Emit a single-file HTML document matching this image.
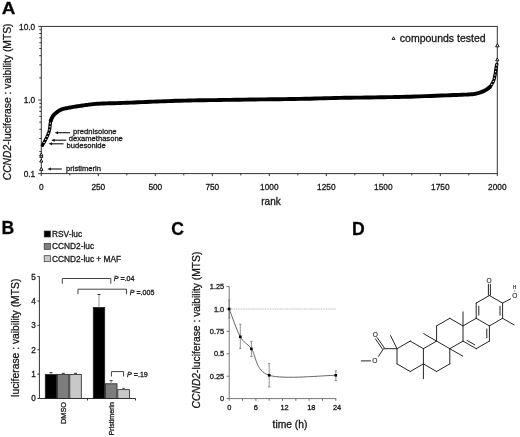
<!DOCTYPE html>
<html><head><meta charset="utf-8"><style>
html,body{margin:0;padding:0;background:#fff;}
svg{display:block;filter:grayscale(100%) blur(0.35px);}
text{font-family:"Liberation Sans",sans-serif;stroke:#222;stroke-width:0.3px;}
</style></head><body>
<svg width="520" height="437" viewBox="0 0 520 437">
<rect width="520" height="437" fill="#fff"/>
<rect x="41.3" y="26.4" width="456.0" height="147.2" fill="none" stroke="#333" stroke-width="1"/>
<line x1="38.30" y1="173.60" x2="41.30" y2="173.60" stroke="#333" stroke-width="1" />
<line x1="39.30" y1="151.44" x2="41.30" y2="151.44" stroke="#333" stroke-width="1" />
<line x1="39.30" y1="138.48" x2="41.30" y2="138.48" stroke="#333" stroke-width="1" />
<line x1="39.30" y1="129.29" x2="41.30" y2="129.29" stroke="#333" stroke-width="1" />
<line x1="39.30" y1="122.16" x2="41.30" y2="122.16" stroke="#333" stroke-width="1" />
<line x1="39.30" y1="116.33" x2="41.30" y2="116.33" stroke="#333" stroke-width="1" />
<line x1="39.30" y1="111.40" x2="41.30" y2="111.40" stroke="#333" stroke-width="1" />
<line x1="39.30" y1="107.13" x2="41.30" y2="107.13" stroke="#333" stroke-width="1" />
<line x1="39.30" y1="103.37" x2="41.30" y2="103.37" stroke="#333" stroke-width="1" />
<line x1="38.30" y1="100.00" x2="41.30" y2="100.00" stroke="#333" stroke-width="1" />
<line x1="39.30" y1="77.84" x2="41.30" y2="77.84" stroke="#333" stroke-width="1" />
<line x1="39.30" y1="64.88" x2="41.30" y2="64.88" stroke="#333" stroke-width="1" />
<line x1="39.30" y1="55.69" x2="41.30" y2="55.69" stroke="#333" stroke-width="1" />
<line x1="39.30" y1="48.56" x2="41.30" y2="48.56" stroke="#333" stroke-width="1" />
<line x1="39.30" y1="42.73" x2="41.30" y2="42.73" stroke="#333" stroke-width="1" />
<line x1="39.30" y1="37.80" x2="41.30" y2="37.80" stroke="#333" stroke-width="1" />
<line x1="39.30" y1="33.53" x2="41.30" y2="33.53" stroke="#333" stroke-width="1" />
<line x1="39.30" y1="29.77" x2="41.30" y2="29.77" stroke="#333" stroke-width="1" />
<line x1="38.30" y1="26.40" x2="41.30" y2="26.40" stroke="#333" stroke-width="1" />
<text x="35.20" y="29.50" font-size="8.3" text-anchor="end" font-weight="normal" fill="#111" >10.0</text>
<text x="35.20" y="103.10" font-size="8.3" text-anchor="end" font-weight="normal" fill="#111" >1.0</text>
<text x="35.20" y="176.70" font-size="8.3" text-anchor="end" font-weight="normal" fill="#111" >0.1</text>
<line x1="41.30" y1="173.60" x2="41.30" y2="176.10" stroke="#333" stroke-width="1" />
<line x1="69.80" y1="173.60" x2="69.80" y2="175.40" stroke="#333" stroke-width="1" />
<line x1="98.30" y1="173.60" x2="98.30" y2="176.10" stroke="#333" stroke-width="1" />
<line x1="126.80" y1="173.60" x2="126.80" y2="175.40" stroke="#333" stroke-width="1" />
<line x1="155.30" y1="173.60" x2="155.30" y2="176.10" stroke="#333" stroke-width="1" />
<line x1="183.80" y1="173.60" x2="183.80" y2="175.40" stroke="#333" stroke-width="1" />
<line x1="212.30" y1="173.60" x2="212.30" y2="176.10" stroke="#333" stroke-width="1" />
<line x1="240.80" y1="173.60" x2="240.80" y2="175.40" stroke="#333" stroke-width="1" />
<line x1="269.30" y1="173.60" x2="269.30" y2="176.10" stroke="#333" stroke-width="1" />
<line x1="297.80" y1="173.60" x2="297.80" y2="175.40" stroke="#333" stroke-width="1" />
<line x1="326.30" y1="173.60" x2="326.30" y2="176.10" stroke="#333" stroke-width="1" />
<line x1="354.80" y1="173.60" x2="354.80" y2="175.40" stroke="#333" stroke-width="1" />
<line x1="383.30" y1="173.60" x2="383.30" y2="176.10" stroke="#333" stroke-width="1" />
<line x1="411.80" y1="173.60" x2="411.80" y2="175.40" stroke="#333" stroke-width="1" />
<line x1="440.30" y1="173.60" x2="440.30" y2="176.10" stroke="#333" stroke-width="1" />
<line x1="468.80" y1="173.60" x2="468.80" y2="175.40" stroke="#333" stroke-width="1" />
<line x1="497.30" y1="173.60" x2="497.30" y2="176.10" stroke="#333" stroke-width="1" />
<text x="41.30" y="189.70" font-size="8.3" text-anchor="middle" font-weight="normal" fill="#111" >0</text>
<text x="98.30" y="189.70" font-size="8.3" text-anchor="middle" font-weight="normal" fill="#111" >250</text>
<text x="155.30" y="189.70" font-size="8.3" text-anchor="middle" font-weight="normal" fill="#111" >500</text>
<text x="212.30" y="189.70" font-size="8.3" text-anchor="middle" font-weight="normal" fill="#111" >750</text>
<text x="269.30" y="189.70" font-size="8.3" text-anchor="middle" font-weight="normal" fill="#111" >1000</text>
<text x="326.30" y="189.70" font-size="8.3" text-anchor="middle" font-weight="normal" fill="#111" >1250</text>
<text x="383.30" y="189.70" font-size="8.3" text-anchor="middle" font-weight="normal" fill="#111" >1500</text>
<text x="440.30" y="189.70" font-size="8.3" text-anchor="middle" font-weight="normal" fill="#111" >1750</text>
<text x="497.30" y="189.70" font-size="8.3" text-anchor="middle" font-weight="normal" fill="#111" >2000</text>
<text x="271.00" y="205.00" font-size="10" text-anchor="middle" font-weight="normal" fill="#111" >rank</text>
<text transform="translate(11.3,101.9) rotate(-90)" font-size="10.3" text-anchor="middle" fill="#111"><tspan font-style="italic">CCND2</tspan>-luciferase : vaibility (MTS)</text>
<text transform="translate(1.7,14.4) scale(1.09,1)" font-size="17.3" font-weight="bold" fill="#000">A</text>
<path d="M50.80,120.60 L50.89,120.38 L51.01,120.09 L51.14,119.75 L51.30,119.36 L51.47,118.96 L51.64,118.55 L51.82,118.16 L52.00,117.80 L52.17,117.47 L52.33,117.15 L52.50,116.83 L52.67,116.51 L52.86,116.20 L53.07,115.87 L53.32,115.54 L53.60,115.20 L53.93,114.84 L54.31,114.45 L54.72,114.06 L55.16,113.66 L55.60,113.27 L56.05,112.89 L56.49,112.53 L56.90,112.20 L57.30,111.90 L57.69,111.61 L58.07,111.35 L58.46,111.09 L58.84,110.85 L59.22,110.63 L59.61,110.41 L60.00,110.20 L60.37,110.00 L60.71,109.83 L61.03,109.67 L61.37,109.51 L61.73,109.36 L62.14,109.22 L62.63,109.06 L63.20,108.90 L63.86,108.73 L64.57,108.56 L65.35,108.39 L66.18,108.22 L67.06,108.04 L67.99,107.87 L68.97,107.69 L70.00,107.50 L71.10,107.31 L72.27,107.11 L73.52,106.91 L74.80,106.70 L76.11,106.49 L77.42,106.29 L78.73,106.09 L80.00,105.90 L81.25,105.71 L82.50,105.52 L83.75,105.34 L85.00,105.16 L86.25,104.98 L87.50,104.81 L88.75,104.65 L90.00,104.50 L91.18,104.36 L92.27,104.23 L93.31,104.11 L94.38,104.00 L95.52,103.89 L96.80,103.79 L98.27,103.69 L100.00,103.60 L101.95,103.51 L104.06,103.44 L106.33,103.38 L108.75,103.32 L111.33,103.26 L114.06,103.19 L116.95,103.10 L120.00,103.00 L123.27,102.88 L126.80,102.74 L130.52,102.59 L134.38,102.43 L138.31,102.27 L142.27,102.11 L146.18,101.95 L150.00,101.80 L153.68,101.65 L157.27,101.51 L160.81,101.36 L164.38,101.22 L168.02,101.08 L171.80,100.94 L175.77,100.82 L180.00,100.70 L184.52,100.59 L189.30,100.49 L194.27,100.40 L199.38,100.32 L204.56,100.24 L209.77,100.16 L214.93,100.08 L220.00,100.00 L225.00,99.92 L230.00,99.84 L235.00,99.76 L240.00,99.69 L245.00,99.61 L250.00,99.54 L255.00,99.47 L260.00,99.40 L265.00,99.34 L270.00,99.28 L275.00,99.23 L280.00,99.18 L285.00,99.12 L290.00,99.06 L295.00,98.99 L300.00,98.90 L305.00,98.80 L310.00,98.68 L315.00,98.54 L320.00,98.41 L325.00,98.27 L330.00,98.13 L335.00,98.01 L340.00,97.90 L345.07,97.81 L350.23,97.72 L355.44,97.65 L360.62,97.58 L365.73,97.51 L370.70,97.44 L375.48,97.37 L380.00,97.30 L384.16,97.23 L387.97,97.17 L391.54,97.11 L395.00,97.06 L398.46,96.99 L402.03,96.91 L405.84,96.82 L410.00,96.70 L414.66,96.55 L419.77,96.37 L425.15,96.17 L430.62,95.96 L436.03,95.75 L441.17,95.55 L445.89,95.36 L450.00,95.20 L453.55,95.07 L456.73,94.95 L459.58,94.85 L462.12,94.76 L464.40,94.67 L466.45,94.58 L468.31,94.50 L470.00,94.40 L471.43,94.30 L472.52,94.21 L473.34,94.12 L473.96,94.03 L474.47,93.94 L474.93,93.84 L475.41,93.72 L476.00,93.60 L476.64,93.47 L477.25,93.33 L477.83,93.18 L478.39,93.02 L478.94,92.86 L479.48,92.69 L480.03,92.50 L480.60,92.30 L481.18,92.09 L481.75,91.88 L482.33,91.65 L482.90,91.41 L483.48,91.16 L484.05,90.89 L484.63,90.61 L485.20,90.30 L485.81,89.94 L486.46,89.53 L487.13,89.08 L487.79,88.63 L488.41,88.18 L488.97,87.78 L489.45,87.45 L489.80,87.20" fill="none" stroke="#000" stroke-width="3.9" stroke-linejoin="round" stroke-linecap="round"/>
<path d="M42.40,145.30 L42.54,145.06 L42.73,144.74 L42.95,144.36 L43.20,143.94 L43.46,143.49 L43.72,143.04 L43.97,142.60 L44.20,142.20 L44.41,141.83 L44.61,141.46 L44.81,141.10 L45.00,140.74 L45.19,140.38 L45.39,140.00 L45.59,139.61 L45.80,139.20 L46.02,138.76 L46.25,138.31 L46.48,137.83 L46.71,137.35 L46.95,136.86 L47.17,136.37 L47.39,135.88 L47.60,135.40 L47.80,134.93 L47.99,134.45 L48.18,133.97 L48.36,133.50 L48.54,133.03 L48.70,132.55 L48.86,132.08 L49.00,131.60 L49.13,131.12 L49.25,130.65 L49.36,130.17 L49.46,129.70 L49.56,129.22 L49.64,128.75 L49.72,128.27 L49.80,127.80 L49.87,127.32 L49.92,126.84 L49.97,126.36 L50.01,125.88 L50.05,125.40 L50.10,124.92 L50.14,124.46 L50.20,124.00 L50.27,123.53 L50.35,123.04 L50.44,122.55 L50.53,122.06 L50.61,121.61 L50.69,121.20 L50.75,120.86 L50.80,120.60" fill="none" stroke="#000" stroke-width="3.3" stroke-linejoin="round" stroke-linecap="round"/>
<path d="M44.11,141.46 L45.01,143.06 L43.21,143.06 Z" fill="#fff"/>
<path d="M45.72,138.47 L46.62,140.07 L44.82,140.07 Z" fill="#fff"/>
<path d="M47.20,135.41 L48.10,137.01 L46.30,137.01 Z" fill="#fff"/>
<path d="M48.49,132.26 L49.39,133.86 L47.59,133.86 Z" fill="#fff"/>
<path d="M49.42,128.99 L50.32,130.59 L48.52,130.59 Z" fill="#fff"/>
<path d="M49.95,125.64 L50.85,127.24 L49.05,127.24 Z" fill="#fff"/>
<path d="M50.33,122.26 L51.23,123.86 L49.43,123.86 Z" fill="#fff"/>
<path d="M489.80,87.20 L489.99,86.91 L490.25,86.53 L490.56,86.07 L490.90,85.56 L491.25,85.03 L491.60,84.49 L491.92,83.97 L492.20,83.50 L492.44,83.06 L492.68,82.63 L492.89,82.20 L493.10,81.78 L493.29,81.36 L493.47,80.94 L493.64,80.52 L493.80,80.10 L493.94,79.67 L494.06,79.25 L494.16,78.82 L494.26,78.40 L494.34,77.97 L494.43,77.55 L494.51,77.12 L494.60,76.70 L494.69,76.28 L494.79,75.85 L494.88,75.43 L494.97,75.01 L495.06,74.58 L495.14,74.16 L495.22,73.73 L495.30,73.30 L495.37,72.87 L495.43,72.45 L495.49,72.02 L495.55,71.59 L495.61,71.16 L495.67,70.72 L495.73,70.27 L495.80,69.80 L495.88,69.30 L495.97,68.76 L496.06,68.19 L496.16,67.63 L496.25,67.07 L496.34,66.56 L496.43,66.09 L496.50,65.70 L496.57,65.38 L496.63,65.11 L496.69,64.88 L496.74,64.69 L496.79,64.54 L496.84,64.41 L496.87,64.30 L496.90,64.20" fill="none" stroke="#000" stroke-width="3.3" stroke-linejoin="round" stroke-linecap="round"/>
<path d="M491.68,83.47 L492.58,85.07 L490.78,85.07 Z" fill="#fff"/>
<path d="M493.29,80.47 L494.19,82.07 L492.39,82.07 Z" fill="#fff"/>
<path d="M494.31,77.24 L495.21,78.84 L493.41,78.84 Z" fill="#fff"/>
<path d="M495.01,73.91 L495.91,75.51 L494.11,75.51 Z" fill="#fff"/>
<path d="M495.57,70.56 L496.47,72.16 L494.67,72.16 Z" fill="#fff"/>
<path d="M496.08,67.20 L496.98,68.80 L495.18,68.80 Z" fill="#fff"/>
<path d="M496.72,63.86 L497.62,65.46 L495.82,65.46 Z" fill="#fff"/>
<path d="M41.30,159.16 L42.90,162.04 L39.70,162.04 Z" fill="#fff" stroke="#000" stroke-width="0.9"/>
<path d="M41.30,154.46 L42.90,157.34 L39.70,157.34 Z" fill="#fff" stroke="#000" stroke-width="0.9"/>
<path d="M41.30,152.86 L42.90,155.74 L39.70,155.74 Z" fill="#fff" stroke="#000" stroke-width="0.9"/>
<path d="M497.30,57.96 L498.90,60.84 L495.70,60.84 Z" fill="#fff" stroke="#000" stroke-width="0.9"/>
<path d="M41.30,167.27 L43.00,170.33 L39.60,170.33 Z" fill="#fff" stroke="#000" stroke-width="0.9"/>
<path d="M497.40,43.62 L499.15,46.78 L495.65,46.78 Z" fill="#fff" stroke="#000" stroke-width="0.9"/>
<path d="M393.50,36.75 L395.00,39.45 L392.00,39.45 Z" fill="#fff" stroke="#000" stroke-width="0.8"/>
<text x="399.80" y="41.60" font-size="10.5" text-anchor="start" font-weight="normal" fill="#111" >compounds tested</text>
<line x1="57.10" y1="132.70" x2="70.00" y2="132.70" stroke="#111" stroke-width="1.1" />
<path d="M54.60,132.70 L58.10,131.20 L58.10,134.20 Z" fill="#111"/>
<text x="73.10" y="133.90" font-size="7.6" text-anchor="start" font-weight="normal" fill="#111" >prednisolone</text>
<line x1="53.70" y1="140.20" x2="66.20" y2="140.20" stroke="#111" stroke-width="1.1" />
<path d="M51.20,140.20 L54.70,138.70 L54.70,141.70 Z" fill="#111"/>
<text x="68.80" y="140.50" font-size="7.6" text-anchor="start" font-weight="normal" fill="#111" >dexamethasone</text>
<line x1="51.00" y1="143.80" x2="63.50" y2="143.80" stroke="#111" stroke-width="1.1" />
<path d="M48.50,143.80 L52.00,142.30 L52.00,145.30 Z" fill="#111"/>
<text x="66.50" y="148.00" font-size="7.6" text-anchor="start" font-weight="normal" fill="#111" >budesonide</text>
<line x1="49.90" y1="169.00" x2="61.80" y2="169.00" stroke="#111" stroke-width="1.1" />
<path d="M47.40,169.00 L50.90,167.50 L50.90,170.50 Z" fill="#111"/>
<text x="66.00" y="170.50" font-size="7.6" text-anchor="start" font-weight="normal" fill="#111" >pristimerin</text>
<text x="1.50" y="233.90" font-size="17.6" text-anchor="start" font-weight="bold" fill="#000" >B</text>
<line x1="39.40" y1="276.40" x2="39.40" y2="398.50" stroke="#333" stroke-width="1" />
<line x1="39.40" y1="398.50" x2="135.60" y2="398.50" stroke="#333" stroke-width="1" />
<line x1="37.40" y1="398.50" x2="39.40" y2="398.50" stroke="#333" stroke-width="1" />
<text x="35.90" y="401.40" font-size="8.2" text-anchor="end" font-weight="normal" fill="#111" >0</text>
<line x1="37.40" y1="374.12" x2="39.40" y2="374.12" stroke="#333" stroke-width="1" />
<text x="35.90" y="377.02" font-size="8.2" text-anchor="end" font-weight="normal" fill="#111" >1</text>
<line x1="37.40" y1="349.74" x2="39.40" y2="349.74" stroke="#333" stroke-width="1" />
<text x="35.90" y="352.64" font-size="8.2" text-anchor="end" font-weight="normal" fill="#111" >2</text>
<line x1="37.40" y1="325.36" x2="39.40" y2="325.36" stroke="#333" stroke-width="1" />
<text x="35.90" y="328.26" font-size="8.2" text-anchor="end" font-weight="normal" fill="#111" >3</text>
<line x1="37.40" y1="300.98" x2="39.40" y2="300.98" stroke="#333" stroke-width="1" />
<text x="35.90" y="303.88" font-size="8.2" text-anchor="end" font-weight="normal" fill="#111" >4</text>
<line x1="37.40" y1="276.60" x2="39.40" y2="276.60" stroke="#333" stroke-width="1" />
<text x="35.90" y="279.50" font-size="8.2" text-anchor="end" font-weight="normal" fill="#111" >5</text>
<line x1="87.50" y1="398.50" x2="87.50" y2="400.50" stroke="#333" stroke-width="1" />
<line x1="135.50" y1="398.50" x2="135.50" y2="400.50" stroke="#333" stroke-width="1" />
<rect x="45.30" y="374.52" width="11.50" height="23.98" fill="#000" stroke="#222" stroke-width="0.8"/>
<rect x="57.60" y="374.52" width="11.40" height="23.98" fill="#7d7d7d" stroke="#222" stroke-width="0.8"/>
<rect x="69.80" y="374.52" width="11.50" height="23.98" fill="#c8c8c8" stroke="#222" stroke-width="0.8"/>
<rect x="93.30" y="307.47" width="11.40" height="91.03" fill="#000" stroke="#222" stroke-width="0.8"/>
<rect x="105.50" y="383.78" width="11.50" height="14.72" fill="#7d7d7d" stroke="#222" stroke-width="0.8"/>
<rect x="117.80" y="389.64" width="11.70" height="8.86" fill="#c8c8c8" stroke="#222" stroke-width="0.8"/>
<line x1="51.00" y1="372.60" x2="51.00" y2="374.20" stroke="#999" stroke-width="1" />
<line x1="49.50" y1="372.60" x2="52.50" y2="372.60" stroke="#333" stroke-width="1" />
<line x1="63.30" y1="373.30" x2="63.30" y2="374.20" stroke="#999" stroke-width="1" />
<line x1="61.80" y1="373.30" x2="64.80" y2="373.30" stroke="#333" stroke-width="1" />
<line x1="75.50" y1="373.30" x2="75.50" y2="374.20" stroke="#999" stroke-width="1" />
<line x1="74.00" y1="373.30" x2="77.00" y2="373.30" stroke="#333" stroke-width="1" />
<line x1="99.00" y1="294.50" x2="99.00" y2="307.20" stroke="#999" stroke-width="1" />
<line x1="97.50" y1="294.50" x2="100.50" y2="294.50" stroke="#333" stroke-width="1" />
<line x1="111.20" y1="380.70" x2="111.20" y2="383.40" stroke="#999" stroke-width="1" />
<line x1="109.70" y1="380.70" x2="112.70" y2="380.70" stroke="#333" stroke-width="1" />
<line x1="123.60" y1="388.30" x2="123.60" y2="389.20" stroke="#999" stroke-width="1" />
<line x1="122.40" y1="388.30" x2="124.80" y2="388.30" stroke="#333" stroke-width="1" />
<path d="M62.30,283.70 L62.30,278.50 L110.80,278.50 L110.80,283.70" fill="none" stroke="#444" stroke-width="1"/>
<path d="M78.00,294.20 L78.00,289.20 L126.50,289.20 L126.50,294.20" fill="none" stroke="#444" stroke-width="1"/>
<path d="M111.40,376.50 L111.40,371.60 L123.60,371.60 L123.60,376.50" fill="none" stroke="#444" stroke-width="1"/>
<text x="113.80" y="280.90" font-size="7.1" fill="#111"><tspan font-style="italic">P</tspan> =.04</text>
<text x="129.70" y="294.70" font-size="7.1" fill="#111"><tspan font-style="italic">P</tspan> =.005</text>
<text x="127.10" y="376.60" font-size="7.1" fill="#111"><tspan font-style="italic">P</tspan> =.19</text>
<rect x="44.2" y="231.00" width="6.2" height="6.0" fill="#000" stroke="#333" stroke-width="0.7"/>
<text x="52.10" y="237.00" font-size="8.3" text-anchor="start" font-weight="normal" fill="#111" >RSV-luc</text>
<rect x="44.2" y="243.35" width="6.2" height="6.0" fill="#7d7d7d" stroke="#333" stroke-width="0.7"/>
<text x="52.10" y="249.35" font-size="8.3" text-anchor="start" font-weight="normal" fill="#111" >CCND2-luc</text>
<rect x="44.2" y="255.70" width="6.2" height="6.0" fill="#c8c8c8" stroke="#333" stroke-width="0.7"/>
<text x="52.10" y="261.70" font-size="8.3" text-anchor="start" font-weight="normal" fill="#111" >CCND2-luc + MAF</text>
<text transform="translate(66.3,413) rotate(-90)" font-size="7.4" text-anchor="middle" fill="#111">DMSO</text>
<text transform="translate(114.0,418.7) rotate(-90)" font-size="7.1" text-anchor="middle" fill="#111">Pristimerin</text>
<text transform="translate(19.1,337.8) rotate(-90)" font-size="10.33" text-anchor="middle" fill="#111">luciferase : vaibility (MTS)</text>
<text x="171.30" y="234.60" font-size="17.6" text-anchor="start" font-weight="bold" fill="#000" >C</text>
<line x1="229.20" y1="286.60" x2="229.20" y2="398.60" stroke="#777" stroke-width="1" />
<line x1="229.20" y1="398.60" x2="336.30" y2="398.60" stroke="#777" stroke-width="1" />
<line x1="226.60" y1="398.60" x2="229.20" y2="398.60" stroke="#777" stroke-width="1" />
<text x="224.20" y="401.20" font-size="7.4" text-anchor="end" font-weight="normal" fill="#111" >0</text>
<line x1="226.60" y1="376.20" x2="229.20" y2="376.20" stroke="#777" stroke-width="1" />
<text x="224.20" y="378.80" font-size="7.4" text-anchor="end" font-weight="normal" fill="#111" >0.25</text>
<line x1="226.60" y1="353.80" x2="229.20" y2="353.80" stroke="#777" stroke-width="1" />
<text x="224.20" y="356.40" font-size="7.4" text-anchor="end" font-weight="normal" fill="#111" >0.5</text>
<line x1="226.60" y1="331.40" x2="229.20" y2="331.40" stroke="#777" stroke-width="1" />
<text x="224.20" y="334.00" font-size="7.4" text-anchor="end" font-weight="normal" fill="#111" >0.75</text>
<line x1="226.60" y1="309.00" x2="229.20" y2="309.00" stroke="#777" stroke-width="1" />
<text x="224.20" y="311.60" font-size="7.4" text-anchor="end" font-weight="normal" fill="#111" >1.0</text>
<line x1="226.60" y1="286.60" x2="229.20" y2="286.60" stroke="#777" stroke-width="1" />
<text x="224.20" y="289.20" font-size="7.4" text-anchor="end" font-weight="normal" fill="#111" >1.25</text>
<line x1="229.20" y1="398.60" x2="229.20" y2="400.80" stroke="#777" stroke-width="1" />
<line x1="242.52" y1="398.60" x2="242.52" y2="400.80" stroke="#777" stroke-width="1" />
<line x1="255.85" y1="398.60" x2="255.85" y2="400.80" stroke="#777" stroke-width="1" />
<line x1="269.18" y1="398.60" x2="269.18" y2="400.80" stroke="#777" stroke-width="1" />
<line x1="282.50" y1="398.60" x2="282.50" y2="400.80" stroke="#777" stroke-width="1" />
<line x1="295.82" y1="398.60" x2="295.82" y2="400.80" stroke="#777" stroke-width="1" />
<line x1="309.15" y1="398.60" x2="309.15" y2="400.80" stroke="#777" stroke-width="1" />
<line x1="322.48" y1="398.60" x2="322.48" y2="400.80" stroke="#777" stroke-width="1" />
<line x1="335.80" y1="398.60" x2="335.80" y2="400.80" stroke="#777" stroke-width="1" />
<text x="229.40" y="410.30" font-size="7.4" text-anchor="middle" font-weight="normal" fill="#111" >0</text>
<text x="255.70" y="410.30" font-size="7.4" text-anchor="middle" font-weight="normal" fill="#111" >6</text>
<text x="284.60" y="410.30" font-size="7.4" text-anchor="middle" font-weight="normal" fill="#111" >12</text>
<text x="311.30" y="410.30" font-size="7.4" text-anchor="middle" font-weight="normal" fill="#111" >18</text>
<text x="337.10" y="410.30" font-size="7.4" text-anchor="middle" font-weight="normal" fill="#111" >24</text>
<text x="290.00" y="428.00" font-size="10.3" text-anchor="middle" font-weight="normal" fill="#111" >time (h)</text>
<text transform="translate(200.2,330.0) rotate(-90)" font-size="10.3" text-anchor="middle" fill="#111"><tspan font-style="italic">CCND2</tspan>-luciferase : vaibility (MTS)</text>
<line x1="229.20" y1="309.00" x2="335.80" y2="309.00" stroke="#b0b0b0" stroke-width="0.9" stroke-dasharray="1,0.7"/>
<line x1="229.20" y1="300.04" x2="229.20" y2="317.96" stroke="#777" stroke-width="0.8" />
<line x1="228.00" y1="300.04" x2="230.40" y2="300.04" stroke="#777" stroke-width="0.8" />
<line x1="228.00" y1="317.96" x2="230.40" y2="317.96" stroke="#777" stroke-width="0.8" />
<line x1="240.30" y1="324.23" x2="240.30" y2="348.42" stroke="#777" stroke-width="0.8" />
<line x1="239.10" y1="324.23" x2="241.50" y2="324.23" stroke="#777" stroke-width="0.8" />
<line x1="239.10" y1="348.42" x2="241.50" y2="348.42" stroke="#777" stroke-width="0.8" />
<line x1="251.41" y1="341.26" x2="251.41" y2="356.49" stroke="#777" stroke-width="0.8" />
<line x1="250.21" y1="341.26" x2="252.61" y2="341.26" stroke="#777" stroke-width="0.8" />
<line x1="250.21" y1="356.49" x2="252.61" y2="356.49" stroke="#777" stroke-width="0.8" />
<line x1="269.18" y1="363.66" x2="269.18" y2="386.95" stroke="#777" stroke-width="0.8" />
<line x1="267.98" y1="363.66" x2="270.38" y2="363.66" stroke="#777" stroke-width="0.8" />
<line x1="267.98" y1="386.95" x2="270.38" y2="386.95" stroke="#777" stroke-width="0.8" />
<line x1="335.80" y1="370.82" x2="335.80" y2="380.68" stroke="#777" stroke-width="0.8" />
<line x1="334.60" y1="370.82" x2="337.00" y2="370.82" stroke="#777" stroke-width="0.8" />
<line x1="334.60" y1="380.68" x2="337.00" y2="380.68" stroke="#777" stroke-width="0.8" />
<path d="M229.20,309.00 C231.05,313.63 236.60,330.13 240.30,336.78 C244.01,343.42 246.60,342.45 251.41,348.87 C256.22,355.29 255.11,370.90 269.18,375.30 C283.24,379.71 324.70,375.30 335.80,375.30" fill="none" stroke="#555" stroke-width="0.9"/>
<rect x="227.90" y="307.70" width="2.6" height="2.6" fill="#000"/>
<rect x="239.00" y="335.48" width="2.6" height="2.6" fill="#000"/>
<rect x="250.11" y="347.57" width="2.6" height="2.6" fill="#000"/>
<rect x="267.88" y="374.00" width="2.6" height="2.6" fill="#000"/>
<rect x="334.50" y="374.00" width="2.6" height="2.6" fill="#000"/>
<text x="352.00" y="234.60" font-size="17.6" text-anchor="start" font-weight="bold" fill="#000" >D</text>
<line x1="463.00" y1="341.10" x2="476.20" y2="348.70" stroke="#262626" stroke-width="1.0" stroke-linecap="round"/>
<line x1="423.40" y1="363.90" x2="436.60" y2="371.50" stroke="#262626" stroke-width="1.0" stroke-linecap="round"/>
<line x1="463.00" y1="325.90" x2="476.20" y2="318.30" stroke="#262626" stroke-width="1.0" stroke-linecap="round"/>
<line x1="436.60" y1="341.10" x2="449.80" y2="348.70" stroke="#262626" stroke-width="1.0" stroke-linecap="round"/>
<line x1="502.60" y1="303.10" x2="502.60" y2="318.30" stroke="#262626" stroke-width="1.0" stroke-linecap="round"/>
<line x1="476.20" y1="348.70" x2="489.40" y2="341.10" stroke="#262626" stroke-width="1.0" stroke-linecap="round"/>
<line x1="463.00" y1="325.90" x2="463.00" y2="341.10" stroke="#262626" stroke-width="1.0" stroke-linecap="round"/>
<line x1="410.20" y1="371.50" x2="423.40" y2="363.90" stroke="#262626" stroke-width="1.0" stroke-linecap="round"/>
<line x1="423.40" y1="348.70" x2="436.60" y2="341.10" stroke="#262626" stroke-width="1.0" stroke-linecap="round"/>
<line x1="449.80" y1="318.30" x2="463.00" y2="325.90" stroke="#262626" stroke-width="1.0" stroke-linecap="round"/>
<line x1="397.00" y1="348.70" x2="397.00" y2="363.90" stroke="#262626" stroke-width="1.0" stroke-linecap="round"/>
<line x1="410.20" y1="341.10" x2="423.40" y2="348.70" stroke="#262626" stroke-width="1.0" stroke-linecap="round"/>
<line x1="449.80" y1="348.70" x2="449.80" y2="363.90" stroke="#262626" stroke-width="1.0" stroke-linecap="round"/>
<line x1="449.80" y1="348.70" x2="463.00" y2="341.10" stroke="#262626" stroke-width="1.0" stroke-linecap="round"/>
<line x1="423.40" y1="348.70" x2="423.40" y2="363.90" stroke="#262626" stroke-width="1.0" stroke-linecap="round"/>
<line x1="489.40" y1="325.90" x2="489.40" y2="341.10" stroke="#262626" stroke-width="1.0" stroke-linecap="round"/>
<line x1="436.60" y1="325.90" x2="449.80" y2="318.30" stroke="#262626" stroke-width="1.0" stroke-linecap="round"/>
<line x1="489.40" y1="295.50" x2="502.60" y2="303.10" stroke="#262626" stroke-width="1.0" stroke-linecap="round"/>
<line x1="476.20" y1="303.10" x2="476.20" y2="318.30" stroke="#262626" stroke-width="1.0" stroke-linecap="round"/>
<line x1="397.00" y1="363.90" x2="410.20" y2="371.50" stroke="#262626" stroke-width="1.0" stroke-linecap="round"/>
<line x1="476.20" y1="318.30" x2="489.40" y2="325.90" stroke="#262626" stroke-width="1.0" stroke-linecap="round"/>
<line x1="489.40" y1="325.90" x2="502.60" y2="318.30" stroke="#262626" stroke-width="1.0" stroke-linecap="round"/>
<line x1="436.60" y1="371.50" x2="449.80" y2="363.90" stroke="#262626" stroke-width="1.0" stroke-linecap="round"/>
<line x1="436.60" y1="325.90" x2="436.60" y2="341.10" stroke="#262626" stroke-width="1.0" stroke-linecap="round"/>
<line x1="397.00" y1="348.70" x2="410.20" y2="341.10" stroke="#262626" stroke-width="1.0" stroke-linecap="round"/>
<line x1="476.20" y1="303.10" x2="489.40" y2="295.50" stroke="#262626" stroke-width="1.0" stroke-linecap="round"/>
<line x1="478.80" y1="315.56" x2="478.80" y2="305.84" stroke="#262626" stroke-width="1.0" />
<line x1="500.00" y1="305.84" x2="500.00" y2="315.56" stroke="#262626" stroke-width="1.0" />
<line x1="486.80" y1="328.64" x2="486.80" y2="338.36" stroke="#262626" stroke-width="1.0" />
<line x1="475.13" y1="345.08" x2="466.68" y2="340.22" stroke="#262626" stroke-width="1.0" />
<line x1="488.40" y1="295.50" x2="488.40" y2="283.90" stroke="#262626" stroke-width="1.0" />
<line x1="490.40" y1="295.50" x2="490.40" y2="283.90" stroke="#262626" stroke-width="1.0" />
<text x="489.10" y="282.90" font-size="6.6" text-anchor="middle" fill="#222" style="stroke:#444;stroke-width:0.15px">O</text>
<line x1="502.60" y1="303.10" x2="511.00" y2="298.70" stroke="#262626" stroke-width="1.0" />
<text x="514.90" y="298.20" font-size="6.6" text-anchor="middle" fill="#222" style="stroke:#444;stroke-width:0.15px">O</text>
<text x="514.60" y="289.10" font-size="5.0" text-anchor="middle" fill="#222" style="stroke:#444;stroke-width:0.15px">H</text>
<line x1="514.60" y1="290.10" x2="514.60" y2="291.80" stroke="#777" stroke-width="0.8" />
<line x1="502.60" y1="318.30" x2="514.48" y2="325.14" stroke="#262626" stroke-width="1.0" />
<line x1="463.00" y1="325.90" x2="463.00" y2="311.46" stroke="#262626" stroke-width="1.0" />
<line x1="449.80" y1="348.70" x2="463.00" y2="356.30" stroke="#262626" stroke-width="1.0" />
<line x1="436.60" y1="341.10" x2="423.40" y2="333.50" stroke="#262626" stroke-width="1.0" />
<line x1="423.40" y1="363.90" x2="423.40" y2="379.10" stroke="#262626" stroke-width="1.0" />
<line x1="397.00" y1="348.70" x2="390.40" y2="335.30" stroke="#262626" stroke-width="1.0" />
<line x1="397.00" y1="348.70" x2="383.50" y2="348.70" stroke="#262626" stroke-width="1.0" />
<line x1="382.59" y1="349.32" x2="375.19" y2="338.52" stroke="#262626" stroke-width="1.0" />
<line x1="384.41" y1="348.08" x2="377.01" y2="337.28" stroke="#262626" stroke-width="1.0" />
<text x="375.20" y="337.10" font-size="6.6" text-anchor="middle" fill="#222" style="stroke:#444;stroke-width:0.15px">O</text>
<line x1="383.50" y1="348.70" x2="378.30" y2="356.60" stroke="#262626" stroke-width="1.0" />
<text x="374.80" y="362.90" font-size="6.6" text-anchor="middle" fill="#222" style="stroke:#444;stroke-width:0.15px">O</text>
<line x1="370.90" y1="360.90" x2="360.90" y2="360.90" stroke="#262626" stroke-width="1.0" />
</svg></body></html>
